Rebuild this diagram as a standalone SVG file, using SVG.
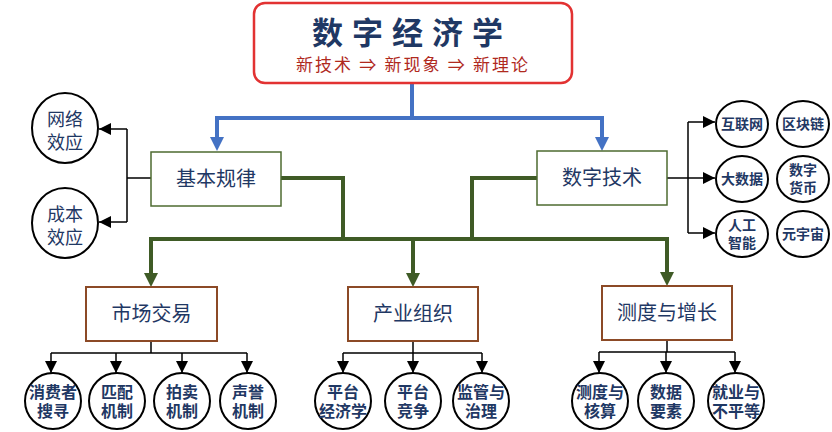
<svg xmlns="http://www.w3.org/2000/svg" width="832" height="432" viewBox="0 0 832 432">
<defs>
<style>
.t{font-family:"Liberation Serif","Noto Sans CJK SC",serif;fill:#1f3864;text-anchor:middle}
.bx{font-size:20px}
.cl{font-size:16px;font-weight:bold}
.cr{font-size:14px;font-weight:bold}
.cL{font-size:18px}
.gbox{fill:#fff;stroke:#4e6b30;stroke-width:1.5}
.bbox{fill:#fff;stroke:#8c4a26;stroke-width:2}
.c{fill:#fff;stroke:#000;stroke-width:2}
.k{fill:none;stroke:#000;stroke-width:1.5}
.g{fill:none;stroke:#3f5b26;stroke-width:4}
.b{fill:none;stroke:#4472c4;stroke-width:4}
</style>
<marker id="ak" markerUnits="userSpaceOnUse" markerWidth="12" markerHeight="12" refX="10" refY="5" orient="auto" viewBox="0 0 10 10"><path d="M0,0 L10,5 L0,10 z" fill="#000"/></marker>
<marker id="ag" markerUnits="userSpaceOnUse" markerWidth="14" markerHeight="14" refX="7" refY="7" orient="auto" viewBox="0 0 14 14"><path d="M0,0 L14,7 L0,14 z" fill="#3f5b26"/></marker>
<marker id="ab" markerUnits="userSpaceOnUse" markerWidth="14" markerHeight="14" refX="7" refY="7" orient="auto" viewBox="0 0 14 14"><path d="M0,0 L14,7 L0,14 z" fill="#4472c4"/></marker>
</defs>
<rect width="832" height="432" fill="#fff"/>

<g id="connectors">
<path class="b" d="M412,84 V118"/>
<path class="b" d="M217,118 H602" stroke-linecap="square"/>
<path class="b" d="M217,118 V144" marker-end="url(#ab)"/>
<path class="b" d="M602,118 V144" marker-end="url(#ab)"/>

<path class="k" d="M151,178 H127 M127,129 V222"/>
<path class="k" d="M127,129 H99" marker-end="url(#ak)"/>
<path class="k" d="M127,222 H99" marker-end="url(#ak)"/>
<path class="k" d="M688,122 V233"/>
<path class="k" d="M688,122 H715" marker-end="url(#ak)"/>
<path class="k" d="M667,178 H715" marker-end="url(#ak)"/>
<path class="k" d="M688,233 H715" marker-end="url(#ak)"/>

<path class="g" d="M281,178 H343 V239"/>
<path class="g" d="M537,178 H472 V239"/>
<path class="g" d="M151,239 H667" stroke-linecap="square"/>
<path class="g" d="M151,239 V280" marker-end="url(#ag)"/>
<path class="g" d="M413,239 V280" marker-end="url(#ag)"/>
<path class="g" d="M667,239 V279" marker-end="url(#ag)"/>

<path class="k" d="M151,341 V353 M51,353 H247"/>
<path class="k" d="M51,353 V373" marker-end="url(#ak)"/>
<path class="k" d="M116,353 V373" marker-end="url(#ak)"/>
<path class="k" d="M182,353 V373" marker-end="url(#ak)"/>
<path class="k" d="M247,353 V373" marker-end="url(#ak)"/>
<path class="k" d="M413,341 V353 M343,353 H482"/>
<path class="k" d="M343,353 V373" marker-end="url(#ak)"/>
<path class="k" d="M413,353 V373" marker-end="url(#ak)"/>
<path class="k" d="M482,353 V373" marker-end="url(#ak)"/>
<path class="k" d="M667,340 V352 M599,352 H735"/>
<path class="k" d="M599,352 V373" marker-end="url(#ak)"/>
<path class="k" d="M666,352 V373" marker-end="url(#ak)"/>
<path class="k" d="M735,352 V373" marker-end="url(#ak)"/>
</g>

<g id="title">
<rect x="254" y="3" width="318" height="80" rx="11" fill="#fff" stroke="#e23232" stroke-width="2.5"/>
<text x="412" y="44" font-family="'Liberation Serif','Noto Sans CJK SC',serif" font-size="31" font-weight="bold" fill="#1f3864" text-anchor="middle" letter-spacing="9">数字经济学</text>
<text x="412" y="71" font-family="'Liberation Serif','Noto Sans CJK SC',serif" font-size="17" fill="#b02a1e" text-anchor="middle" textLength="232" lengthAdjust="spacing">新技术 ⇒ 新现象 ⇒ 新理论</text>
</g>

<g id="n-jbgl"><rect class="gbox" x="151" y="152" width="130" height="54"/><text class="t bx" x="216" y="186">基本规律</text></g>
<g id="n-szjs"><rect class="gbox" x="537" y="151" width="130" height="54"/><text class="t bx" x="602" y="185">数字技术</text></g>

<g id="n-wlxy"><ellipse class="c" cx="65" cy="128" rx="33" ry="35"/><text class="t cL" x="65" y="126">网络</text><text class="t cL" x="65" y="149">效应</text></g>
<g id="n-cbxy"><ellipse class="c" cx="65" cy="223" rx="33" ry="35"/><text class="t cL" x="65" y="221">成本</text><text class="t cL" x="65" y="244">效应</text></g>

<g id="n-hlw"><ellipse class="c" cx="742" cy="124" rx="26" ry="23"/><text class="t cr" x="742" y="129">互联网</text></g>
<g id="n-qkl"><ellipse class="c" cx="803" cy="124" rx="26" ry="23"/><text class="t cr" x="803" y="129">区块链</text></g>
<g id="n-dsj"><ellipse class="c" cx="742" cy="179" rx="26" ry="23"/><text class="t cr" x="742" y="184">大数据</text></g>
<g id="n-szhb"><ellipse class="c" cx="803" cy="179" rx="26" ry="23"/><text class="t cr" x="803" y="175">数字</text><text class="t cr" x="803" y="193">货币</text></g>
<g id="n-rgzn"><ellipse class="c" cx="742" cy="234" rx="26" ry="23"/><text class="t cr" x="742" y="230">人工</text><text class="t cr" x="742" y="248">智能</text></g>
<g id="n-yyz"><ellipse class="c" cx="803" cy="234" rx="26" ry="23"/><text class="t cr" x="803" y="239">元宇宙</text></g>

<g id="n-scjy"><rect class="bbox" x="86" y="287" width="131" height="54"/><text class="t bx" x="151.5" y="321">市场交易</text></g>
<g id="n-cyzz"><rect class="bbox" x="348" y="287" width="130" height="54"/><text class="t bx" x="413" y="321">产业组织</text></g>
<g id="n-cdyzz"><rect class="bbox" x="602" y="286" width="130" height="54"/><text class="t bx" x="667" y="320">测度与增长</text></g>

<g id="n-xfzss"><ellipse class="c" cx="53" cy="401" rx="28" ry="28"/><text class="t cl" x="53" y="398">消费者</text><text class="t cl" x="53" y="417">搜寻</text></g>
<g id="n-ppjz"><ellipse class="c" cx="117" cy="401" rx="28" ry="28"/><text class="t cl" x="117" y="398">匹配</text><text class="t cl" x="117" y="417">机制</text></g>
<g id="n-pmjz"><ellipse class="c" cx="182" cy="401" rx="28" ry="28"/><text class="t cl" x="182" y="398">拍卖</text><text class="t cl" x="182" y="417">机制</text></g>
<g id="n-syjz"><ellipse class="c" cx="248" cy="401" rx="28" ry="28"/><text class="t cl" x="248" y="398">声誉</text><text class="t cl" x="248" y="417">机制</text></g>

<g id="n-ptjjx"><ellipse class="c" cx="343" cy="401" rx="28" ry="28"/><text class="t cl" x="343" y="398">平台</text><text class="t cl" x="343" y="417">经济学</text></g>
<g id="n-ptjz"><ellipse class="c" cx="413" cy="401" rx="28" ry="28"/><text class="t cl" x="413" y="398">平台</text><text class="t cl" x="413" y="417">竞争</text></g>
<g id="n-jgyzl"><ellipse class="c" cx="481" cy="401" rx="28" ry="28"/><text class="t cl" x="481" y="398">监管与</text><text class="t cl" x="481" y="417">治理</text></g>

<g id="n-cdyhs"><ellipse class="c" cx="600" cy="401" rx="28" ry="28"/><text class="t cl" x="600" y="398">测度与</text><text class="t cl" x="600" y="417">核算</text></g>
<g id="n-sjys"><ellipse class="c" cx="666" cy="401" rx="28" ry="28"/><text class="t cl" x="666" y="398">数据</text><text class="t cl" x="666" y="417">要素</text></g>
<g id="n-jyybpd"><ellipse class="c" cx="736" cy="401" rx="28" ry="28"/><text class="t cl" x="736" y="398">就业与</text><text class="t cl" x="736" y="417">不平等</text></g>
</svg>
